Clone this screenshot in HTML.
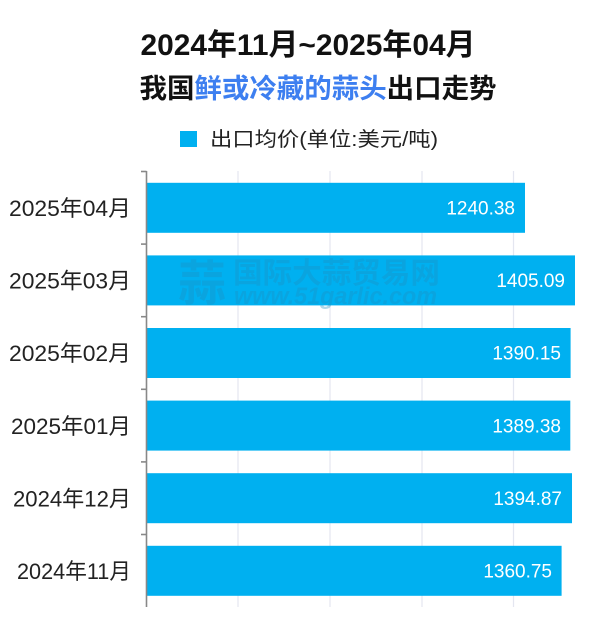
<!DOCTYPE html>
<html>
<head>
<meta charset="utf-8">
<style>
  html,body{margin:0;padding:0;background:#fff;}
  body{width:600px;height:623px;overflow:hidden;}
  svg{display:block;}
  text{font-family:"Liberation Sans","Noto Sans CJK SC",sans-serif;}
</style>
</head>
<body>
<svg width="600" height="623" viewBox="0 0 600 623" xmlns="http://www.w3.org/2000/svg">
  <!-- Title -->
  <text x="308" y="55" text-anchor="middle" font-size="30" font-weight="bold" fill="#111" textLength="335" lengthAdjust="spacingAndGlyphs">2024年11月~2025年04月</text>
  <text x="318" y="98" text-anchor="middle" font-size="27" font-weight="bold" fill="#111" textLength="357" lengthAdjust="spacingAndGlyphs">我国<tspan fill="#3d7ff0">鲜或冷藏的蒜头</tspan>出口走势</text>

  <!-- Legend -->
  <rect x="180" y="131" width="17" height="16" fill="#00b0f0"/>
  <text x="210" y="146" font-size="20" fill="#222" textLength="228" lengthAdjust="spacingAndGlyphs">出口均价(单位:美元/吨)</text>

  <!-- Grid lines -->
  <g stroke="#e4e6f0" stroke-width="1.2">
    <line x1="238" y1="171" x2="238" y2="607"/>
    <line x1="330" y1="171" x2="330" y2="607"/>
    <line x1="422" y1="171" x2="422" y2="607"/>
    <line x1="513.5" y1="171" x2="513.5" y2="607"/>
  </g>

  <!-- Bars -->
  <g fill="#00b0f0">
    <rect x="147" y="182.8" width="378" height="50"/>
    <rect x="147" y="255.4" width="428" height="50"/>
    <rect x="147" y="328" width="423.6" height="50"/>
    <rect x="147" y="400.6" width="423.3" height="50"/>
    <rect x="147" y="473.2" width="425" height="50"/>
    <rect x="147" y="545.8" width="414.6" height="50"/>
  </g>

  <!-- Watermark -->
  <g fill="#1f8fc0" opacity="0.35">
    <text x="178" y="300" font-size="48" font-weight="bold">蒜</text>
    <text x="233" y="283" font-size="29" font-weight="bold" textLength="207" lengthAdjust="spacingAndGlyphs">国际大蒜贸易网</text>
    <text x="234" y="304" font-size="24" font-weight="bold" font-style="italic" textLength="203" lengthAdjust="spacingAndGlyphs">www.51garlic.com</text>
  </g>

  <!-- Value labels -->
  <g fill="#fff" font-size="19" text-anchor="end">
    <text x="515" y="214.5">1240.38</text>
    <text x="565" y="287.1">1405.09</text>
    <text x="561" y="359.7">1390.15</text>
    <text x="561" y="432.3">1389.38</text>
    <text x="562" y="504.9">1394.87</text>
    <text x="552" y="577.5">1360.75</text>
  </g>

  <!-- Axis -->
  <g stroke="#888" stroke-width="1.6">
    <line x1="146.5" y1="171" x2="146.5" y2="607"/>
    <line x1="141" y1="171.5" x2="146.5" y2="171.5"/>
    <line x1="141" y1="244.1" x2="146.5" y2="244.1"/>
    <line x1="141" y1="316.7" x2="146.5" y2="316.7"/>
    <line x1="141" y1="389.3" x2="146.5" y2="389.3"/>
    <line x1="141" y1="461.9" x2="146.5" y2="461.9"/>
    <line x1="141" y1="534.5" x2="146.5" y2="534.5"/>
  </g>

  <!-- Y labels -->
  <g fill="#222" font-size="22" text-anchor="end">
    <text x="131" y="216" textLength="122" lengthAdjust="spacingAndGlyphs">2025年04月</text>
    <text x="131" y="288.6" textLength="122" lengthAdjust="spacingAndGlyphs">2025年03月</text>
    <text x="131" y="361.2" textLength="122" lengthAdjust="spacingAndGlyphs">2025年02月</text>
    <text x="131" y="433.8" textLength="120" lengthAdjust="spacingAndGlyphs">2025年01月</text>
    <text x="131" y="506.4" textLength="118" lengthAdjust="spacingAndGlyphs">2024年12月</text>
    <text x="131" y="579" textLength="114" lengthAdjust="spacingAndGlyphs">2024年11月</text>
  </g>
</svg>
</body>
</html>
